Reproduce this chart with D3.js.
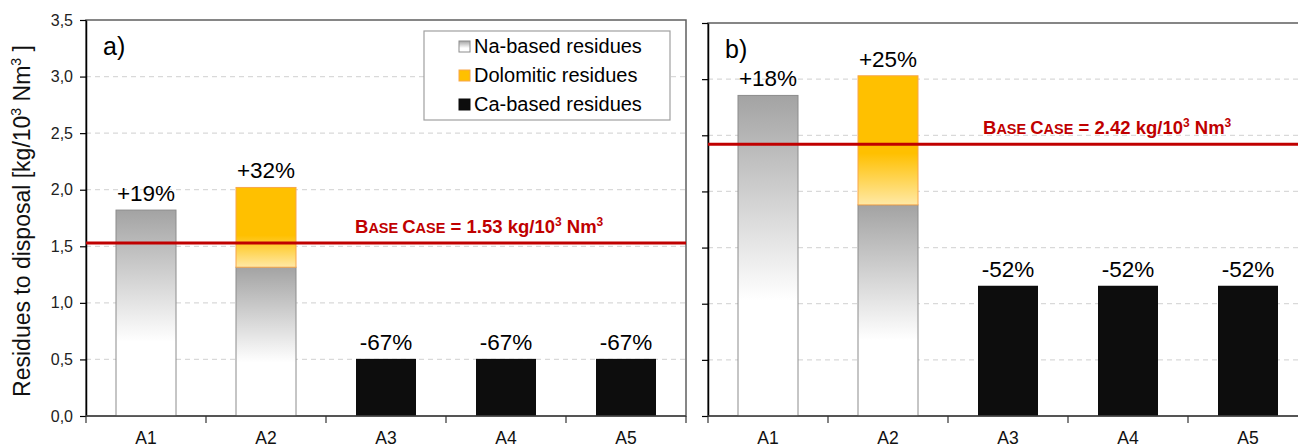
<!DOCTYPE html>
<html>
<head>
<meta charset="utf-8">
<script src="https://cdn.jsdelivr.net/npm/d3@7"></script>
<style>
  body { margin: 0; background: #fff; }
  svg { display: block; font-family: "Liberation Sans", Arial, sans-serif; }
</style>
</head>
<body>
<div id="c1"></div>
<script>
// data
var categories = ["A1", "A2", "A3", "A4", "A5"];
var yTicks = [0, 0.5, 1, 1.5, 2, 2.5, 3, 3.5];

var naA  = [1.82, 1.315, 0, 0, 0];
var dolA = [0, 0.705, 0, 0, 0];
var caA  = [0, 0, 0.505, 0.505, 0.505];
var pctA = ["+19%", "+32%", "-67%", "-67%", "-67%"];
var baseA = 1.53;

var naB  = [2.855, 1.88, 0, 0, 0];
var dolB = [0, 1.15, 0, 0, 0];
var caB  = [0, 0, 1.16, 1.16, 1.16];
var pctB = ["+18%", "+25%", "-52%", "-52%", "-52%"];
var baseB = 2.42;

var legendItems = ["Na-based residues", "Dolomitic residues", "Ca-based residues"];

var w = 1298, h = 447;
var svg = d3.select("#c1").append("svg").attr("width", w).attr("height", h);

// gradients
var defs = svg.append("defs");
var gNa = defs.append("linearGradient").attr("id", "gNa").attr("x1", 0).attr("y1", 0).attr("x2", 0).attr("y2", 1);
gNa.append("stop").attr("offset", 0).attr("stop-color", "#a3a3a3");
gNa.append("stop").attr("offset", 0.64).attr("stop-color", "#ffffff");
gNa.append("stop").attr("offset", 1).attr("stop-color", "#ffffff");
var gDol = defs.append("linearGradient").attr("id", "gDol").attr("x1", 0).attr("y1", 0).attr("x2", 0).attr("y2", 1);
gDol.append("stop").attr("offset", 0).attr("stop-color", "#ffc000");
gDol.append("stop").attr("offset", 0.6).attr("stop-color", "#ffc000");
gDol.append("stop").attr("offset", 1).attr("stop-color", "#ffe9a6");

function drawPanel(o) {
    var x = d3.scaleBand().domain(categories).range([o.x0, o.x1]).paddingInner(0).paddingOuter(0);
    var y = d3.scaleLinear().domain([0, 3.5]).range([416, o.top]);
    var g = svg.append("g");
    var bw = x.bandwidth() * 0.5;

    // gridlines
    g.selectAll("line.grid").data(yTicks.filter(function (d) { return d > 0 && d < 3.5; }))
        .enter().append("line")
        .attr("x1", o.x0).attr("x2", o.x1)
        .attr("y1", function (d) { return y(d); }).attr("y2", function (d) { return y(d); })
        .attr("stroke", "#d9d9d9").attr("stroke-width", 1.2).attr("stroke-dasharray", "5,4");

    // frame
    g.append("rect").attr("x", o.x0).attr("y", o.top).attr("width", o.x1 - o.x0).attr("height", 416 - o.top)
        .attr("fill", "none").attr("stroke", "#5f5f5f").attr("stroke-width", 1.5);

    categories.forEach(function (c, i) {
        // Na-based
        if (o.na[i] > 0) {
            g.append("rect")
                .attr("x", x(c) + bw / 2).attr("y", y(o.na[i]))
                .attr("width", bw).attr("height", y(0) - y(o.na[i]))
                .attr("fill", "url(#gNa)").attr("stroke", "#8c8c8c").attr("stroke-width", 1);
        }
        // dolomitic, stacked on Na
        if (o.dol[i] > 0) {
            g.append("rect")
                .attr("x", x(c) + bw / 2).attr("y", y(o.na[i] + o.dol[i]))
                .attr("width", bw).attr("height", y(o.na[i]) - y(o.na[i] + o.dol[i]))
                .attr("fill", "url(#gDol)").attr("stroke", "#f7a64a").attr("stroke-width", 1);
        }
        if (o.ca[i] > 0) {
            g.append("rect")
                .attr("x", x(c) + bw / 2).attr("y", y(o.ca[i]))
                .attr("width", bw).attr("height", y(0) - y(o.ca[i]))
                .attr("fill", "#0d0d0d");
        }
        var tot = o.na[i] + o.dol[i] + o.ca[i];
        g.append("text")
            .attr("x", x(c) + x.bandwidth() / 2).attr("y", y(tot) - 9)
            .attr("text-anchor", "middle").attr("font-size", 22.5).attr("fill", "#000")
            .text(o.pct[i]);
    });

    // y axis
    var ya = d3.axisLeft(y).tickValues(yTicks).tickSize(6).tickSizeOuter(0)
        .tickFormat(o.labels ? function (d) { return d3.format(".1f")(d).replace(".", ","); } : "");
    var yg = g.append("g").attr("transform", "translate(" + o.x0 + ",0)").call(ya);
    yg.select(".domain").attr("stroke", "#000").attr("stroke-width", 1.5);
    yg.selectAll(".tick line").attr("stroke", "#000").attr("stroke-width", 1.2);
    yg.selectAll(".tick text").attr("font-size", 16).attr("fill", "#222").attr("x", -13);

    // x axis
    g.append("line").attr("x1", o.x0).attr("x2", o.x1).attr("y1", 416).attr("y2", 416)
        .attr("stroke", "#444").attr("stroke-width", 1.5);
    var bounds = categories.map(function (c) { return x(c); }).concat([o.x1]);
    g.selectAll("line.xt").data(bounds).enter().append("line")
        .attr("x1", function (d) { return d; }).attr("x2", function (d) { return d; })
        .attr("y1", 416).attr("y2", 423).attr("stroke", "#333").attr("stroke-width", 1.2);
    g.selectAll("text.xl").data(categories).enter().append("text")
        .attr("x", function (d) { return x(d) + x.bandwidth() / 2; }).attr("y", 444)
        .attr("text-anchor", "middle").attr("font-size", 17.5).attr("fill", "#111")
        .text(function (d) { return d; });

    // base case line
    g.append("line").attr("x1", o.x0).attr("x2", o.x1)
        .attr("y1", y(o.base)).attr("y2", y(o.base))
        .attr("stroke", "#c00000").attr("stroke-width", 3);
    var t = g.append("text").attr("x", o.x0 + o.labelDx).attr("y", y(o.base) - 10)
        .attr("fill", "#c00000").attr("font-weight", "bold").attr("font-size", 18.5);
    t.append("tspan").text("B");
    t.append("tspan").attr("font-size", 14.5).text("ASE ");
    t.append("tspan").text("C");
    t.append("tspan").attr("font-size", 14.5).text("ASE");
    t.append("tspan").text(" = " + d3.format(".2f")(o.base) + " kg/10");
    t.append("tspan").attr("font-size", 12).attr("dy", -7).text("3");
    t.append("tspan").attr("dy", 7).text(" Nm");
    t.append("tspan").attr("font-size", 12).attr("dy", -7).text("3");

    // panel letter
    g.append("text").attr("x", o.x0 + 17).attr("y", o.top + 35)
        .attr("font-size", 25).attr("fill", "#000").text(o.letter);
    return g;
}

drawPanel({ x0: 86, x1: 686, top: 20, na: naA, dol: dolA, ca: caA, pct: pctA, base: baseA, labels: true, labelDx: 269, letter: "a)" });
drawPanel({ x0: 708, x1: 1308, top: 23, na: naB, dol: dolB, ca: caB, pct: pctB, base: baseB, labels: false, labelDx: 275, letter: "b)" });

// legend
var lg = svg.append("g");
lg.append("rect").attr("x", 424).attr("y", 31).attr("width", 246).attr("height", 89)
    .attr("fill", "#fff").attr("stroke", "#a0a0a0").attr("stroke-width", 1.2);
var sw = [
    { fill: "url(#gNa)", stroke: "#8c8c8c" },
    { fill: "#ffc000", stroke: "#f7a64a" },
    { fill: "#0d0d0d", stroke: "#0d0d0d" }
];
legendItems.forEach(function (d, i) {
    var cy = 46 + i * 29;
    lg.append("rect").attr("x", 459).attr("y", cy - 5).attr("width", 11).attr("height", 11)
        .attr("fill", sw[i].fill).attr("stroke", sw[i].stroke).attr("stroke-width", 1);
    lg.append("text").attr("x", 474).attr("y", cy + 7).attr("font-size", 20).attr("fill", "#000").text(d);
});

// y title
svg.append("text")
    .attr("transform", "translate(30,221) rotate(-90)")
    .attr("text-anchor", "middle").attr("font-size", 23).attr("fill", "#111")
    .call(function (t) {
        t.append("tspan").text("Residues to disposal [kg/10");
        t.append("tspan").attr("font-size", 14).attr("dy", -9).text("3");
        t.append("tspan").attr("dy", 9).text(" Nm");
        t.append("tspan").attr("font-size", 14).attr("dy", -9).text("3");
        t.append("tspan").attr("dy", 9).text(" ]");
    });
</script>
</body>
</html>
